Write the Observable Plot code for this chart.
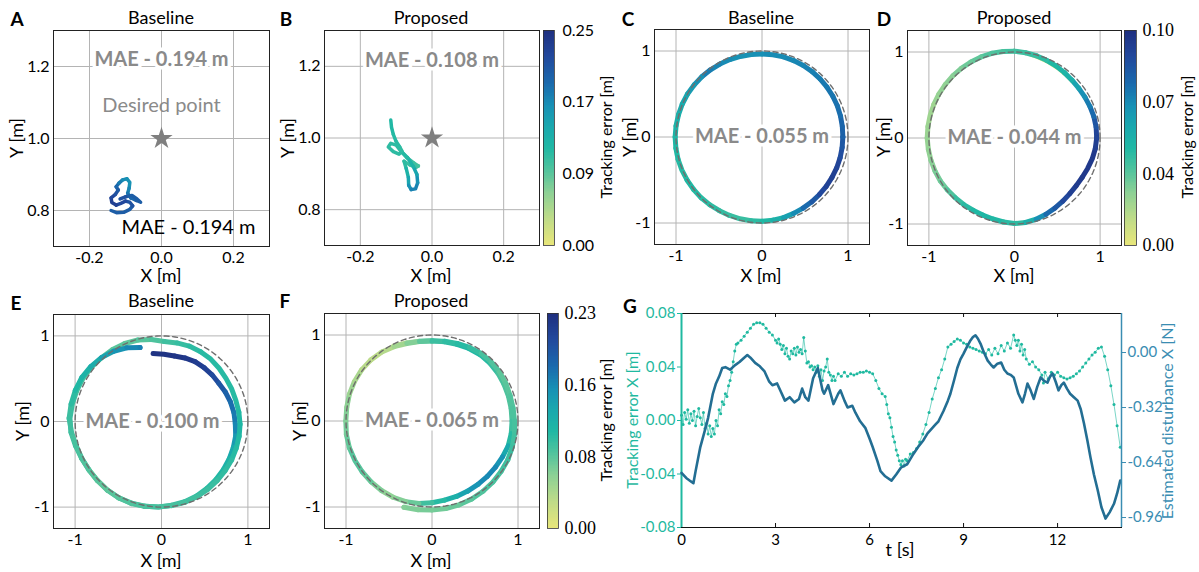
<!DOCTYPE html>
<html><head><meta charset="utf-8">
<script src="https://cdn.jsdelivr.net/npm/d3@7"></script>
<script src="https://cdn.jsdelivr.net/npm/@observablehq/plot@0.6"></script>
<style>
body{margin:0;background:#fff;}
#fig{position:relative;width:1199px;height:572px;overflow:hidden;background:#fff;font-family:Lato,"Open Sans",sans-serif;}
.lbl{position:absolute;white-space:nowrap;line-height:1;}
</style></head>
<body><div id="fig"></div>
<script>
// ---------------- DATA ----------------
// Panel A (baseline, set-point)
const aX = [-0.140,-0.125,-0.105,-0.088,-0.080,-0.088,-0.100,-0.113,-0.126,-0.138,-0.140,-0.128,-0.120,-0.126,-0.118,-0.108,-0.096,-0.088,-0.090,-0.094,-0.085,-0.070,-0.058,-0.068,-0.082,-0.100,-0.115];
const aY = [0.800,0.794,0.795,0.803,0.813,0.823,0.826,0.820,0.815,0.822,0.835,0.845,0.857,0.866,0.876,0.885,0.888,0.878,0.862,0.848,0.835,0.828,0.823,0.832,0.842,0.838,0.832];
const aErr = [0.20,0.20,0.20,0.20,0.21,0.21,0.22,0.22,0.23,0.23,0.22,0.21,0.20,0.19,0.175,0.165,0.16,0.16,0.17,0.18,0.19,0.20,0.20,0.20,0.20,0.21,0.21];
// Panel B (proposed, set-point)
const bX = [-0.115,-0.113,-0.108,-0.100,-0.090,-0.083,-0.092,-0.108,-0.122,-0.115,-0.100,-0.088,-0.070,-0.050,-0.038,-0.045,-0.062,-0.078,-0.072,-0.066,-0.065,-0.058,-0.046,-0.040,-0.042,-0.052,-0.068,-0.085];
const bY = [1.050,1.030,1.010,0.990,0.975,0.962,0.955,0.962,0.975,0.985,0.980,0.965,0.945,0.930,0.922,0.918,0.925,0.935,0.915,0.890,0.868,0.856,0.858,0.875,0.898,0.920,0.945,0.962];
const bErr = [0.112,0.112,0.110,0.108,0.105,0.105,0.105,0.105,0.105,0.105,0.105,0.100,0.098,0.095,0.092,0.095,0.100,0.105,0.120,0.140,0.160,0.172,0.172,0.160,0.140,0.120,0.110,0.105];
const desiredPoint = [{x: 0, y: 1.0}];
// Panel C (baseline circle), polar samples: angle [deg], radius [m], error [m]
const cAngle = [0,7.5,15,22.5,30,37.5,45,52.5,60,67.5,75,82.5,90,97.5,105,112.5,120,127.5,135,142.5,150,157.5,165,172.5,180,187.5,195,202.5,210,217.5,225,232.5,240,247.5,255,262.5,270,277.5,285,292.5,300,307.5,315,322.5,330,337.5,345,352.5,360];
const cRadius = [0.94,0.942,0.945,0.948,0.95,0.952,0.955,0.958,0.96,0.962,0.965,0.965,0.965,0.967,0.97,0.975,0.98,0.985,0.99,0.995,1.0,1.003,1.005,1.008,1.01,1.01,1.01,1.008,1.005,1.002,1.0,0.995,0.99,0.987,0.985,0.982,0.98,0.975,0.97,0.962,0.955,0.95,0.945,0.942,0.94,0.94,0.94,0.94,0.94];
const cErr = [0.078,0.077,0.074,0.073,0.072,0.071,0.070,0.069,0.068,0.067,0.066,0.066,0.065,0.064,0.064,0.066,0.068,0.070,0.064,0.060,0.056,0.053,0.050,0.048,0.046,0.045,0.044,0.044,0.045,0.044,0.043,0.042,0.041,0.040,0.040,0.042,0.045,0.050,0.058,0.066,0.075,0.082,0.088,0.091,0.092,0.090,0.086,0.082,0.078];
// Panel D (proposed circle)
const dAngle = cAngle;
const dRadius = [0.96,0.962,0.96,0.955,0.95,0.948,0.95,0.958,0.968,0.978,0.99,1.0,1.01,1.015,1.02,1.02,1.02,1.02,1.02,1.02,1.02,1.02,1.02,1.02,1.02,1.015,1.01,1.005,1.0,0.99,0.98,0.975,0.97,0.97,0.975,0.985,0.995,0.99,0.978,0.96,0.942,0.926,0.914,0.91,0.914,0.925,0.94,0.952,0.96];
const dErr = [0.090,0.083,0.075,0.070,0.065,0.057,0.050,0.047,0.045,0.042,0.040,0.039,0.038,0.036,0.035,0.032,0.030,0.027,0.025,0.023,0.022,0.020,0.020,0.021,0.022,0.023,0.025,0.028,0.030,0.035,0.040,0.043,0.045,0.046,0.045,0.043,0.042,0.050,0.065,0.075,0.082,0.088,0.092,0.094,0.095,0.095,0.095,0.093,0.090];
const dTailAngle = [42,50,58,66,74,82];
const dTailRadius = [0.935,0.938,0.945,0.955,0.968,0.985];
const dTailErr = [0.004,0.003,0.003,0.003,0.004,0.006];
// Panel E (baseline, disturbed circle), polar with unwrapped clockwise angle
const eAngle = [97,88,79,70,61,52,43,34,25,16,7,-2,-11,-20,-29,-38,-47,-56,-65,-74,-83,-92,-101,-110,-119,-128,-137,-146,-155,-164,-173,-182,-191,-200,-209,-218,-227,-236,-245,-254,-263,-272,-281,-290,-299,-308,-317,-326,-335,-344,-353,-362,-371,-380,-389,-398,-407,-416,-425,-434,-443,-452,-461,-470,-479,-488,-497,-506,-515,-524,-533,-542,-551,-560,-569,-578,-587,-596,-605,-614];
const eRadius = [0.80,0.785,0.78,0.79,0.80,0.80,0.80,0.80,0.815,0.83,0.845,0.855,0.875,0.885,0.897,0.91,0.925,0.942,0.96,0.975,0.985,1.0,1.008,1.015,1.02,1.018,1.012,1.012,1.02,1.035,1.055,1.06,1.052,1.045,1.04,1.03,1.018,1.013,1.005,0.99,0.965,0.935,0.935,0.938,0.933,0.925,0.912,0.90,0.897,0.895,0.902,0.91,0.915,0.92,0.928,0.935,0.945,0.957,0.97,0.982,0.99,1.0,1.01,1.02,1.018,1.016,1.014,1.013,1.018,1.027,1.05,1.07,1.066,1.062,1.056,1.04,1.02,0.99,0.95,0.90];
const eErr = [0.225,0.225,0.223,0.22,0.215,0.21,0.20,0.19,0.18,0.17,0.163,0.155,0.14,0.125,0.113,0.105,0.10,0.097,0.095,0.092,0.09,0.09,0.088,0.085,0.082,0.08,0.08,0.082,0.085,0.088,0.09,0.09,0.09,0.088,0.085,0.082,0.08,0.076,0.075,0.078,0.082,0.088,0.093,0.098,0.10,0.10,0.10,0.10,0.10,0.10,0.103,0.105,0.102,0.10,0.097,0.095,0.092,0.09,0.088,0.086,0.085,0.085,0.083,0.08,0.077,0.075,0.078,0.08,0.083,0.085,0.088,0.09,0.097,0.103,0.11,0.12,0.132,0.145,0.155,0.16];
// Panel F (proposed, disturbed circle)
const fAngle = [117,108,99,90,81,72,63,54,45,36,27,18,9,0,-9,-18,-27,-36,-45,-54,-63,-72,-81,-90,-99,-108,-117,-126,-135,-144,-153,-162,-171,-180,-189,-198,-207,-216,-225,-234,-243,-252,-261,-270,-279,-288,-297,-306,-315,-324,-333,-342,-351,-360,-369,-378,-387,-396,-405,-414,-423,-432,-441,-450,-459,-468];
const fRadius = [0.98,0.955,0.938,0.932,0.933,0.938,0.946,0.953,0.952,0.947,0.94,0.935,0.932,0.931,0.933,0.932,0.92,0.913,0.91,0.91,0.915,0.922,0.932,0.95,0.972,0.986,0.995,0.999,1.001,1.004,1.007,1.01,1.008,1.002,1.004,1.01,1.012,1.012,1.005,0.992,0.97,0.948,0.935,0.93,0.938,0.948,0.96,0.971,0.973,0.971,0.963,0.955,0.955,0.96,0.972,0.982,0.99,0.995,1.003,1.01,1.018,1.025,1.03,1.035,1.045,1.055];
const fErr = [0.03,0.055,0.08,0.095,0.10,0.105,0.103,0.10,0.093,0.085,0.082,0.08,0.082,0.088,0.10,0.125,0.145,0.155,0.153,0.145,0.13,0.115,0.10,0.088,0.07,0.06,0.055,0.062,0.072,0.078,0.078,0.072,0.066,0.06,0.055,0.047,0.04,0.032,0.03,0.034,0.045,0.06,0.075,0.09,0.096,0.10,0.093,0.085,0.08,0.075,0.077,0.08,0.082,0.085,0.087,0.09,0.088,0.085,0.083,0.08,0.076,0.071,0.067,0.065,0.062,0.06];
const refRadius = 1;
// Panel G time series
const gTealT = [0,0.05,0.1,0.15,0.2,0.25,0.3,0.35,0.4,0.45,
 0.5,0.55,0.6,0.65,0.7,0.75,0.8,0.85,0.9,0.95,
 1.0,1.05,1.1,1.15,1.2,1.25,1.3,1.35,1.4,1.45,
 1.5,1.55,1.6,1.65,1.7,1.75,1.8,1.9,2.0,2.1,
 2.2,2.3,2.4,2.5,2.6,2.7,2.8,2.9,3.0,3.05,
 3.1,3.15,3.2,3.25,3.3,3.35,3.4,3.45,3.5,3.55,
 3.6,3.65,3.7,3.75,3.8,3.85,3.9,3.95,4.0,4.05,
 4.1,4.15,4.2,4.25,4.3,4.35,4.4,4.45,4.5,4.55,
 4.6,4.65,4.7,4.75,4.8,4.85,4.9,5.0,5.1,5.2,
 5.3,5.4,5.5,5.6,5.7,5.8,5.9,6.0,6.1,6.2,
 6.3,6.4,6.5,6.55,6.6,6.65,6.7,6.75,6.8,6.85,
 6.9,6.95,7.0,7.05,7.1,7.15,7.2,7.3,7.4,7.5,
 7.6,7.7,7.8,7.9,8.0,8.1,8.2,8.3,8.4,8.5,
 8.6,8.7,8.8,8.9,9.0,9.1,9.2,9.3,9.4,9.5,
 9.6,9.7,9.8,9.9,10.0,10.1,10.2,10.3,10.4,10.5,
 10.6,10.65,10.7,10.75,10.8,10.85,10.9,10.95,11.0,11.1,
 11.2,11.3,11.4,11.5,11.55,11.6,11.7,11.8,11.9,12.0,
 12.1,12.2,12.3,12.4,12.5,12.6,12.7,12.8,12.9,13.0,
 13.1,13.2,13.3,13.4,13.5,13.6,13.7,13.8,13.9,14.0];
const gTealV = [0.004,-0.003,0.006,0.001,0.008,-0.002,0.005,0.000,0.007,-0.004,
 0.003,0.009,0.002,-0.003,0.006,-0.006,-0.002,-0.010,-0.004,-0.012,
 -0.006,-0.010,0.000,-0.004,0.008,0.005,0.014,0.012,0.020,0.018,
 0.026,0.030,0.036,0.044,0.052,0.057,0.058,0.060,0.063,0.066,
 0.069,0.072,0.073,0.073,0.072,0.069,0.066,0.064,0.060,0.058,
 0.061,0.057,0.053,0.056,0.050,0.054,0.048,0.046,0.052,0.050,
 0.054,0.049,0.055,0.051,0.053,0.050,0.062,0.052,0.043,0.044,
 0.040,0.041,0.038,0.040,0.036,0.041,0.033,0.038,0.030,0.037,
 0.040,0.046,0.036,0.034,0.030,0.033,0.030,0.035,0.033,0.036,
 0.033,0.035,0.034,0.035,0.036,0.036,0.037,0.036,0.035,0.030,
 0.024,0.020,0.018,0.012,0.005,0.002,-0.005,-0.012,-0.016,-0.022,
 -0.026,-0.030,-0.033,-0.030,-0.034,-0.029,-0.030,-0.025,-0.024,-0.021,
 -0.016,-0.010,-0.003,0.006,0.016,0.024,0.032,0.038,0.046,0.055,
 0.057,0.059,0.061,0.060,0.058,0.057,0.055,0.054,0.053,0.052,
 0.051,0.050,0.053,0.049,0.054,0.050,0.056,0.052,0.058,0.054,
 0.064,0.060,0.056,0.060,0.052,0.057,0.049,0.053,0.046,0.042,
 0.044,0.040,0.038,0.034,0.028,0.036,0.031,0.036,0.034,0.036,
 0.033,0.032,0.031,0.032,0.033,0.035,0.037,0.040,0.043,0.046,
 0.049,0.051,0.054,0.055,0.048,0.038,0.026,0.012,-0.004,-0.020];
const gDistT = [0,0.15,0.3,0.38,0.45,0.6,0.75,0.85,1.0,1.1,
 1.2,1.3,1.4,1.55,1.7,1.85,2.0,2.1,2.2,2.35,
 2.5,2.65,2.8,2.9,3.05,3.15,3.3,3.45,3.6,3.75,
 3.85,3.95,4.05,4.2,4.35,4.5,4.55,4.68,4.85,5.0,
 5.07,5.2,5.3,5.45,5.55,5.7,5.87,6.0,6.1,6.25,
 6.35,6.5,6.7,6.85,7.0,7.1,7.2,7.3,7.4,7.55,
 7.72,7.85,7.95,8.1,8.2,8.36,8.5,8.58,8.7,8.8,
 8.9,9.0,9.1,9.22,9.3,9.38,9.46,9.54,9.65,9.77,
 9.87,9.96,10.08,10.2,10.3,10.4,10.5,10.6,10.75,10.88,
 10.96,11.04,11.14,11.24,11.35,11.46,11.57,11.68,11.76,11.84,
 11.94,12.03,12.12,12.2,12.3,12.4,12.52,12.64,12.74,12.84,
 12.95,13.05,13.16,13.28,13.4,13.53,13.66,13.8,13.9,14.0];
const gDistV = [-0.70,-0.73,-0.75,-0.76,-0.69,-0.55,-0.45,-0.38,-0.24,-0.18,
 -0.14,-0.09,-0.085,-0.10,-0.075,-0.055,-0.03,-0.015,-0.03,-0.06,
 -0.08,-0.11,-0.17,-0.19,-0.18,-0.22,-0.28,-0.26,-0.29,-0.27,
 -0.21,-0.26,-0.28,-0.15,-0.09,-0.22,-0.24,-0.19,-0.30,-0.24,
 -0.22,-0.28,-0.32,-0.31,-0.35,-0.40,-0.44,-0.50,-0.55,-0.63,
 -0.69,-0.72,-0.745,-0.71,-0.67,-0.66,-0.65,-0.62,-0.59,-0.55,
 -0.51,-0.47,-0.45,-0.42,-0.40,-0.34,-0.28,-0.24,-0.16,-0.09,
 -0.04,-0.006,0.03,0.07,0.09,0.10,0.08,0.052,0.00,-0.047,
 -0.07,-0.087,-0.065,-0.058,-0.10,-0.122,-0.13,-0.145,-0.24,-0.29,
 -0.24,-0.18,-0.22,-0.27,-0.20,-0.145,-0.165,-0.175,-0.14,-0.122,
 -0.17,-0.22,-0.19,-0.175,-0.21,-0.24,-0.26,-0.28,-0.33,-0.41,
 -0.51,-0.61,-0.71,-0.80,-0.90,-0.966,-0.93,-0.88,-0.82,-0.745];
// Axes, ticks, labels
const setXDomain = [-0.3, 0.3], setYDomain = [0.7, 1.3];
const setXTicks = [-0.2, 0, 0.2], setXLabels = ["-0.2", "0.0", "0.2"];
const setYTicks = [0.8, 1.0, 1.2], setYLabels = ["0.8", "1.0", "1.2"];
const circDomain = [-1.25, 1.25];
const circTicks = [-1, 0, 1], circLabels = ["-1", "0", "1"];
const cbarMaxAB = 0.25, cbarLabelsAB = ["0.00", "0.09", "0.17", "0.25"];
const cbarMaxCD = 0.10, cbarLabelsCD = ["0.00", "0.04", "0.07", "0.10"];
const cbarMaxEF = 0.23, cbarLabelsEF = ["0.00", "0.08", "0.16", "0.23"];
const gTDomain = [0, 14.04], gTTicks = [0, 3, 6, 9, 12];
const gErrDomain = [-0.08, 0.08], gErrTicks = [-0.08, -0.04, 0, 0.04, 0.08];
const gErrLabels = ["-0.08", "-0.04", "0.00", "0.04", "0.08"];
const gDistDomain = [-1.018, 0.227], gDistTicks = [-0.96, -0.64, -0.32, 0];
const gDistLabels = ["-0.96", "-0.64", "-0.32", "0.00"];
const maeLabels = {A: "MAE - 0.194 m", B: "MAE - 0.108 m", C: "MAE - 0.055 m", D: "MAE - 0.044 m", E: "MAE - 0.100 m", F: "MAE - 0.065 m"};

// ---------------- STYLE ----------------
const FONT = "Lato, 'Open Sans', sans-serif";
const SERIF = "'Liberation Serif', 'DejaVu Serif', serif";
const TEAL = "#1fb9a0", BLUE = "#236e93", AXBLUE = "#3a8db2";
const GRID = "#b4b4b4", MAEGRAY = "#8a8a8a";
const cmapPos = [0, 0.12, 0.25, 0.35, 0.45, 0.55, 0.65, 0.75, 0.88, 1];
const cmapCol = ["#e8e67a","#c0dc88","#8ad096","#50c39d","#20b8a4","#1aa8ae","#1890b5","#1a6aad","#22489c","#1f2f7f"];
const colorOpt = max => ({type: "linear", domain: cmapPos.map(p => p * max), range: cmapCol, interpolate: "rgb"});

const fig = document.getElementById("fig");
function place(svg, left, top) {
  svg.style.position = "absolute"; svg.style.left = left + "px"; svg.style.top = top + "px";
  fig.appendChild(svg);
}
function txt(s, x, y, o = {}) {
  const d = document.createElement("div");
  d.className = "lbl"; d.textContent = s;
  Object.assign(d.style, {left: x + "px", top: y + "px", fontSize: (o.size || 18) + "px",
    fontWeight: o.weight || "normal", color: o.color || "#000", fontFamily: o.family || FONT,
    transform: "translate(-50%,-50%)" + (o.rot ? " rotate(-90deg)" : "")});
  fig.appendChild(d);
}
const fmt = (ticks, labels) => d => { const i = ticks.findIndex(t => Math.abs(t - d) < 1e-9); return i < 0 ? "" : labels[i]; };
const zipXY = (X, Y, E) => X.map((x, i) => ({x, y: Y[i], e: E[i]}));
const zipPolar = (A, R, E) => A.map((a, i) => ({x: R[i] * Math.cos(a * Math.PI / 180), y: R[i] * Math.sin(a * Math.PI / 180), e: E[i]}));
const refCircle = d3.range(0, 361, 3).map(a => ({x: refRadius * Math.cos(a * Math.PI / 180), y: refRadius * Math.sin(a * Math.PI / 180)}));

function xyPanel(o) {
  const ML = 50, MR = 10, MT = 10, MB = 34;
  const marks = [
    Plot.ruleX(o.xTicks, {stroke: GRID, strokeWidth: 1}),
    Plot.ruleY(o.yTicks, {stroke: GRID, strokeWidth: 1})
  ];
  for (const tr of o.trajs) marks.push(Plot.line(tr.data, {x: "x", y: "y", z: null, stroke: "e", strokeWidth: tr.sw, strokeLinecap: "round", strokeLinejoin: "round"}));
  if (o.ref) marks.push(Plot.line(refCircle, {x: "x", y: "y", stroke: "#6e6e6e", strokeWidth: 1.4, strokeDasharray: "5,3.5"}));
  if (o.star) marks.push(Plot.dot(desiredPoint, {x: "x", y: "y", symbol: "star", r: 7, fill: "#7f7f7f", stroke: "none"}));
  for (const t of o.texts) marks.push(Plot.text([t.s], {text: d => d, frameAnchor: t.anchor, lineAnchor: "middle", dx: t.dx || 0, dy: t.dy || 0,
    fontSize: 20, fontWeight: t.weight || "normal", fill: t.fill, stroke: t.halo ? "white" : null, strokeWidth: t.halo ? 7 : null, paintOrder: "stroke"}));
  marks.push(Plot.frame({stroke: "#222", strokeWidth: 1}));
  const svg = Plot.plot({
    width: o.w + ML + MR, height: o.h + MT + MB,
    marginLeft: ML, marginRight: MR, marginTop: MT, marginBottom: MB,
    style: {background: "transparent", overflow: "visible", fontFamily: FONT, fontSize: "16px", color: "#000"},
    x: {domain: o.xDomain, ticks: o.xTicks, tickFormat: fmt(o.xTicks, o.xLabels), tickSize: 0, tickPadding: 5, label: null},
    y: {domain: o.yDomain, ticks: o.yTicks, tickFormat: fmt(o.yTicks, o.yLabels), tickSize: 0, tickPadding: 4, label: null},
    color: colorOpt(o.cmax),
    marks
  });
  place(svg, o.left - ML, o.top - MT);
}

function colorbar(o) {
  const MR = 60, MT = 10, MB = 10;
  const n = o.labels.length;
  const ticks = o.labels.map((_, i) => o.cmax * i / (n - 1));
  const bins = d3.range(150).map(i => ({y1: o.cmax * i / 150, y2: o.cmax * (i + 1) / 150}));
  const svg = Plot.plot({
    width: o.w + MR, height: o.h + MT + MB, marginLeft: 0, marginRight: MR, marginTop: MT, marginBottom: MB,
    style: {background: "transparent", overflow: "visible", fontFamily: o.family, fontSize: o.size + "px", color: "#000"},
    x: {domain: [0, 1], axis: null},
    y: {domain: [0, o.cmax], axis: "right", ticks, tickFormat: fmt(ticks, o.labels), tickSize: 0, tickPadding: o.pad, label: null},
    color: colorOpt(o.cmax),
    marks: [
      Plot.rect(bins, {x1: 0, x2: 1, y1: "y1", y2: "y2", fill: d => (d.y1 + d.y2) / 2, inset: 0, shapeRendering: "crispEdges"}),
      Plot.frame({stroke: "#333", strokeWidth: 0.8})
    ]
  });
  place(svg, o.left, o.top - MT);
}

// ---------------- PANELS ----------------
xyPanel({left: 53, top: 30, w: 216, h: 216, xDomain: setXDomain, yDomain: setYDomain,
  xTicks: setXTicks, xLabels: setXLabels, yTicks: setYTicks, yLabels: setYLabels, cmax: cbarMaxAB,
  trajs: [{data: zipXY(aX, aY, aErr), sw: 3.5}], star: true,
  texts: [{s: maeLabels.A, anchor: "top", dy: 29, weight: "bold", fill: MAEGRAY, halo: true},
          {s: "Desired point", anchor: "top", dy: 75, fill: MAEGRAY},
          {s: maeLabels.A, anchor: "bottom", dy: -19, dx: 27, fill: "#000"}]});
xyPanel({left: 324, top: 30, w: 215, h: 215, xDomain: setXDomain, yDomain: setYDomain,
  xTicks: setXTicks, xLabels: setXLabels, yTicks: setYTicks, yLabels: setYLabels, cmax: cbarMaxAB,
  trajs: [{data: zipXY(bX, bY, bErr), sw: 3.5}], star: true,
  texts: [{s: maeLabels.B, anchor: "top", dy: 30, weight: "bold", fill: MAEGRAY, halo: true}]});
colorbar({left: 543, top: 30, w: 11, h: 215, cmax: cbarMaxAB, labels: cbarLabelsAB, family: FONT, size: 16, pad: 8});

xyPanel({left: 654, top: 29, w: 215, h: 215, xDomain: circDomain, yDomain: circDomain,
  xTicks: circTicks, xLabels: circLabels, yTicks: circTicks, yLabels: circLabels, cmax: cbarMaxCD,
  trajs: [{data: zipPolar(cAngle, cRadius, cErr), sw: 5}], ref: true,
  texts: [{s: maeLabels.C, anchor: "middle", weight: "bold", fill: MAEGRAY, halo: true}]});
xyPanel({left: 907, top: 30, w: 214, h: 215, xDomain: circDomain, yDomain: circDomain,
  xTicks: circTicks, xLabels: circLabels, yTicks: circTicks, yLabels: circLabels, cmax: cbarMaxCD,
  trajs: [{data: zipPolar(dTailAngle, dTailRadius, dTailErr), sw: 2}, {data: zipPolar(dAngle, dRadius, dErr), sw: 5}], ref: true,
  texts: [{s: maeLabels.D, anchor: "middle", weight: "bold", fill: MAEGRAY, halo: true}]});
colorbar({left: 1124, top: 30, w: 12, h: 215, cmax: cbarMaxCD, labels: cbarLabelsCD, family: SERIF, size: 18, pad: 6});

xyPanel({left: 53, top: 314, w: 216, h: 214, xDomain: circDomain, yDomain: circDomain,
  xTicks: circTicks, xLabels: circLabels, yTicks: circTicks, yLabels: circLabels, cmax: cbarMaxEF,
  trajs: [{data: zipPolar(eAngle, eRadius, eErr), sw: 5}], ref: true,
  texts: [{s: maeLabels.E, anchor: "middle", dx: -9, weight: "bold", fill: MAEGRAY, halo: true}]});
xyPanel({left: 324, top: 313, w: 215, h: 215, xDomain: circDomain, yDomain: circDomain,
  xTicks: circTicks, xLabels: circLabels, yTicks: circTicks, yLabels: circLabels, cmax: cbarMaxEF,
  trajs: [{data: zipPolar(fAngle, fRadius, fErr), sw: 5}], ref: true,
  texts: [{s: maeLabels.F, anchor: "middle", weight: "bold", fill: MAEGRAY, halo: true}]});
colorbar({left: 547, top: 313, w: 11, h: 215, cmax: cbarMaxEF, labels: cbarLabelsEF, family: SERIF, size: 18, pad: 6});

// Panel G: three overlaid plots sharing one frame
(function () {
  const L = 681, T = 313, W = 440, H = 214;
  const ML = 60, MR = 60, MT = 10, MB = 30;
  const base = {width: W + ML + MR, height: H + MT + MB, marginLeft: ML, marginRight: MR, marginTop: MT, marginBottom: MB};
  const teal = gTealT.map((t, i) => ({t, v: gTealV[i]}));
  const dist = gDistT.map((t, i) => ({t, v: gDistV[i]}));
  const g3 = Plot.plot({...base,
    style: {background: "transparent", overflow: "visible", fontFamily: FONT, fontSize: "15px", color: "#000"},
    x: {domain: gTDomain, ticks: gTTicks, tickFormat: d => String(d), tickSize: 0, tickPadding: 7, label: null},
    marks: [Plot.frame({stroke: "#111", strokeWidth: 1}),
      Plot.ruleX(gTTicks, {insetTop: H - 4, stroke: "#111"}),
      Plot.ruleX(gTTicks, {insetBottom: H - 4, stroke: "#111"})]
  });
  place(g3, L - ML, T - MT);
  const g1 = Plot.plot({...base,
    style: {background: "transparent", overflow: "visible", fontFamily: FONT, fontSize: "15px", color: TEAL},
    x: {domain: gTDomain, axis: null},
    y: {domain: gErrDomain, ticks: gErrTicks, tickFormat: fmt(gErrTicks, gErrLabels), tickSize: 4, tickPadding: 2, label: null},
    marks: [
      Plot.line(teal, {x: "t", y: "v", stroke: TEAL, strokeWidth: 0.8, strokeOpacity: 0.75}),
      Plot.dot(teal, {x: "t", y: "v", r: 1.5, fill: TEAL, stroke: "none"}),
      Plot.ruleX([gTDomain[0]], {stroke: TEAL, strokeWidth: 2})
    ]
  });
  place(g1, L - ML, T - MT);
  const g2 = Plot.plot({...base,
    style: {background: "transparent", overflow: "visible", fontFamily: FONT, fontSize: "15px", color: AXBLUE},
    x: {domain: gTDomain, axis: null},
    y: {domain: gDistDomain, axis: "right", ticks: gDistTicks, tickFormat: fmt(gDistTicks, gDistLabels), tickSize: 4, tickPadding: 2, label: null},
    marks: [
      Plot.line(dist, {x: "t", y: "v", stroke: BLUE, strokeWidth: 2.6, strokeLinejoin: "round"}),
      Plot.ruleX([gTDomain[1]], {stroke: AXBLUE, strokeWidth: 1.5})
    ]
  });
  place(g2, L - ML, T - MT);
})();

// ---------------- TEXT LABELS ----------------
[["A", 17, 18], ["B", 286, 18], ["C", 628, 18], ["D", 884, 18], ["E", 16, 302], ["F", 285, 300], ["G", 630, 305]]
  .forEach(([s, x, y]) => txt(s, x, y, {weight: "bold", size: 19}));
[["Baseline", 161, 17], ["Proposed", 431, 17], ["Baseline", 761, 17], ["Proposed", 1014, 17], ["Baseline", 161, 300], ["Proposed", 431, 300]]
  .forEach(([s, x, y]) => txt(s, x, y, {size: 18}));
[[161, 275], [431, 275], [761, 275], [1014, 275], [161, 560], [431, 560]].forEach(([x, y]) => txt("X [m]", x, y, {size: 18}));
[[16, 138], [287, 138], [629, 137], [883, 137], [22, 421], [299, 421]].forEach(([x, y]) => txt("Y [m]", x, y, {size: 18, rot: true}));
txt("Tracking error [m]", 606, 137, {size: 16, rot: true});
txt("Tracking error [m]", 1187, 137, {size: 16, rot: true});
txt("Tracking error [m]", 606, 420, {size: 16, rot: true});
txt("Tracking error X [m]", 632, 420, {size: 16, rot: true, color: TEAL});
txt("Estimated disturbance X [N]", 1167, 421, {size: 16, rot: true, color: AXBLUE});
txt("t [s]", 900, 549, {size: 18});
</script>
</body></html>
